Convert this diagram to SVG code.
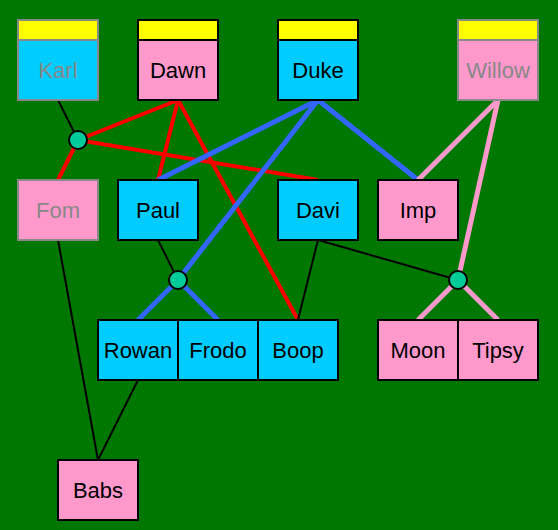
<svg xmlns="http://www.w3.org/2000/svg" width="558" height="530" viewBox="0 0 558 530">
<style>
.bx{stroke:#000;stroke-width:2}
.dim{stroke:#888888;stroke-width:2}
.m{fill:#00CCFF}
.f{fill:#FF99CC}
.y{fill:#FFFF00}
text{font-family:"Liberation Sans",Arial,sans-serif;font-size:22px;text-anchor:middle;fill:#000}
text.g{fill:#888888}
.k{stroke:#000;stroke-width:2;fill:none}
.r{stroke:#FF0000;stroke-width:4;fill:none}
.b{stroke:#3366FF;stroke-width:5;fill:none}
.p{stroke:#FF99CC;stroke-width:5;fill:none}
.j{fill:#00CC99;stroke:#000;stroke-width:2}
</style>
<rect x="0" y="0" width="558" height="530" fill="#007700"/>
<g id="connectors">
<line class="k" x1="58" y1="100" x2="78" y2="140"/>
<line class="r" x1="178" y1="100" x2="78" y2="140"/>
<line class="r" x1="78" y1="140" x2="58" y2="180"/>
<line class="r" x1="78" y1="140" x2="318" y2="180"/>
<line class="r" x1="178" y1="100" x2="158" y2="180"/>
<line class="r" x1="178" y1="100" x2="298" y2="320"/>
<line class="b" x1="318" y1="100" x2="158" y2="180"/>
<line class="b" x1="318" y1="100" x2="178" y2="280"/>
<line class="b" x1="318" y1="100" x2="418" y2="180"/>
<line class="b" x1="178" y1="280" x2="138" y2="320"/>
<line class="b" x1="178" y1="280" x2="218" y2="320"/>
<line class="k" x1="158" y1="240" x2="178" y2="280"/>
<line class="p" x1="498" y1="100" x2="418" y2="180"/>
<line class="p" x1="498" y1="100" x2="458" y2="280"/>
<line class="p" x1="458" y1="280" x2="418" y2="320"/>
<line class="p" x1="458" y1="280" x2="498" y2="320"/>
<line class="k" x1="318" y1="240" x2="458" y2="280"/>
<line class="k" x1="318" y1="240" x2="298" y2="320"/>
<line class="k" x1="58" y1="240" x2="98" y2="460"/>
<line class="k" x1="138" y1="380" x2="98" y2="460"/>
<circle class="j" cx="78" cy="140" r="9"/>
<circle class="j" cx="178" cy="280" r="9"/>
<circle class="j" cx="458" cy="280" r="9"/>
</g>
<g id="Karl"><rect class="dim y" x="18" y="20" width="80" height="20"/><rect class="dim m" x="18" y="40" width="80" height="60"/><text class="g" x="58" y="77.5">Karl</text></g>
<g id="Dawn"><rect class="bx y" x="138" y="20" width="80" height="20"/><rect class="bx f" x="138" y="40" width="80" height="60"/><text x="178" y="77.5">Dawn</text></g>
<g id="Duke"><rect class="bx y" x="278" y="20" width="80" height="20"/><rect class="bx m" x="278" y="40" width="80" height="60"/><text x="318" y="77.5">Duke</text></g>
<g id="Willow"><rect class="dim y" x="458" y="20" width="80" height="20"/><rect class="dim f" x="458" y="40" width="80" height="60"/><text class="g" x="498" y="77.5">Willow</text></g>
<g id="Fom"><rect class="dim f" x="18" y="180" width="80" height="60"/><text class="g" x="58" y="217.5">Fom</text></g>
<g id="Paul"><rect class="bx m" x="118" y="180" width="80" height="60"/><text x="158" y="217.5">Paul</text></g>
<g id="Davi"><rect class="bx m" x="278" y="180" width="80" height="60"/><text x="318" y="217.5">Davi</text></g>
<g id="Imp"><rect class="bx f" x="378" y="180" width="80" height="60"/><text x="418" y="217.5">Imp</text></g>
<g id="Rowan"><rect class="bx m" x="98" y="320" width="80" height="60"/><text x="138" y="357.5">Rowan</text></g>
<g id="Frodo"><rect class="bx m" x="178" y="320" width="80" height="60"/><text x="218" y="357.5">Frodo</text></g>
<g id="Boop"><rect class="bx m" x="258" y="320" width="80" height="60"/><text x="298" y="357.5">Boop</text></g>
<g id="Moon"><rect class="bx f" x="378" y="320" width="80" height="60"/><text x="418" y="357.5">Moon</text></g>
<g id="Tipsy"><rect class="bx f" x="458" y="320" width="80" height="60"/><text x="498" y="357.5">Tipsy</text></g>
<g id="Babs"><rect class="bx f" x="58" y="460" width="80" height="60"/><text x="98" y="497.5">Babs</text></g>
</svg>
